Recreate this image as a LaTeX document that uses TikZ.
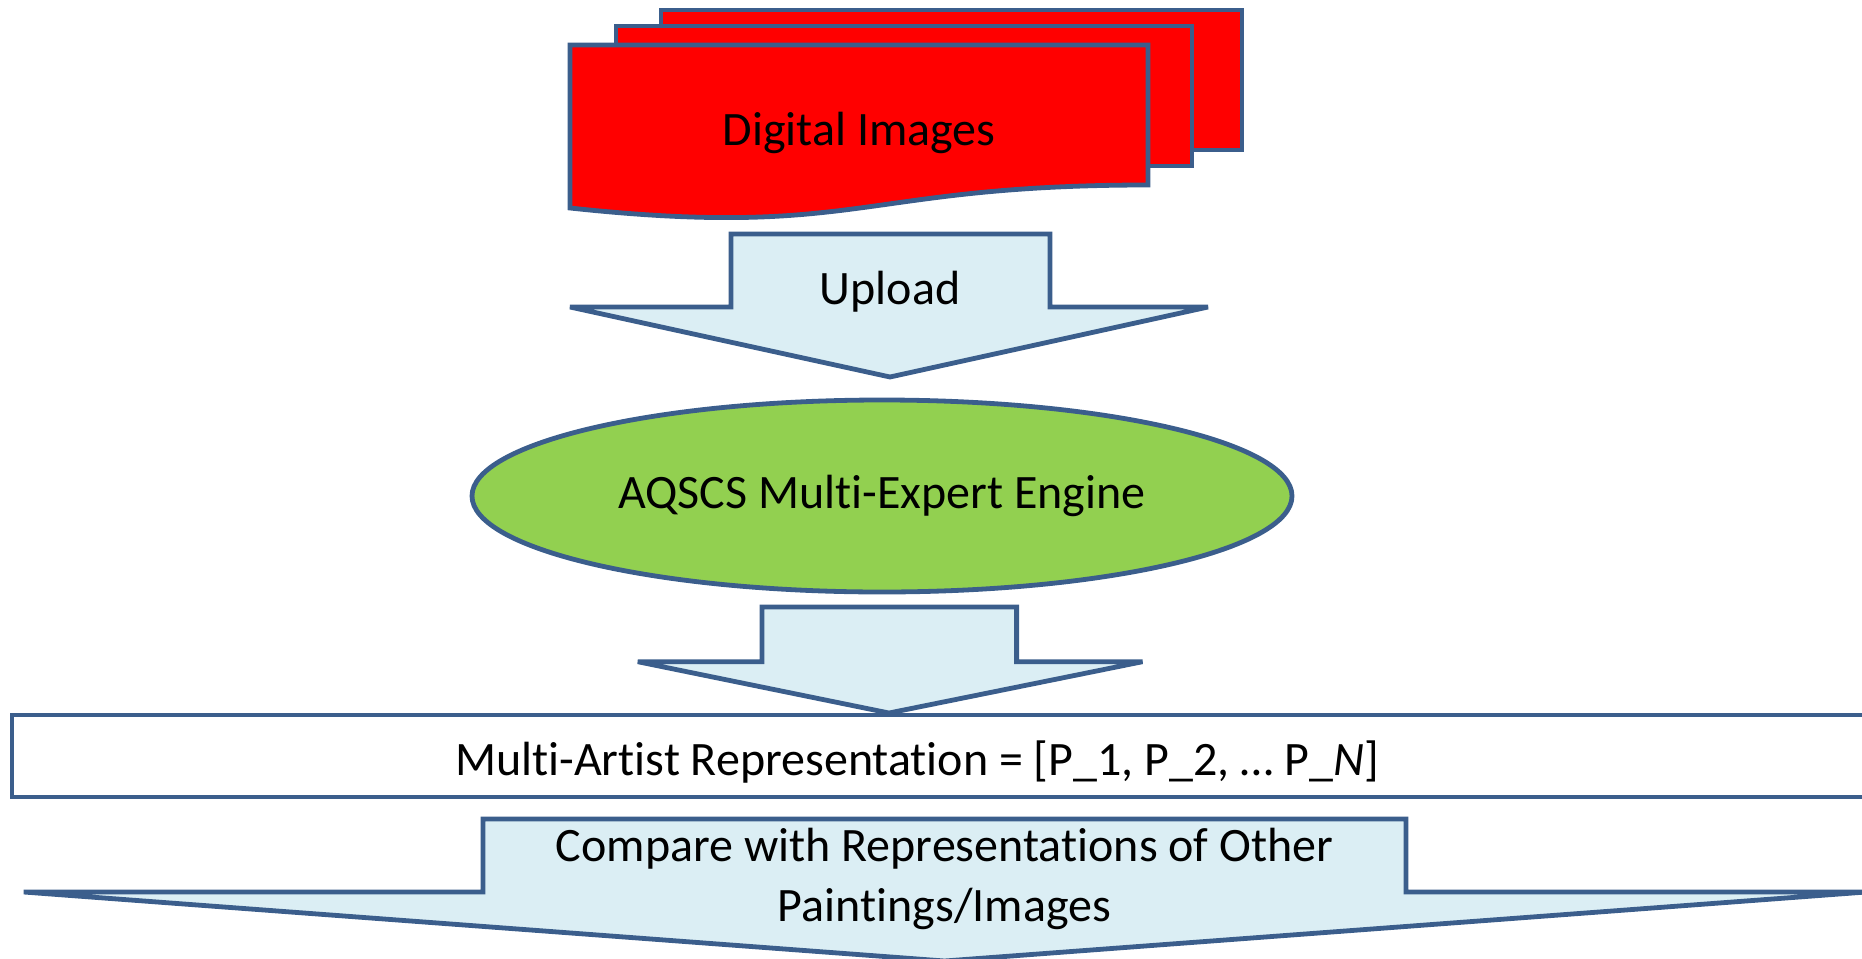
\documentclass[tikz,border=0pt]{standalone}
\usepackage{fontspec}
\setmainfont{Carlito}[Ligatures=NoCommon]
\usetikzlibrary{shapes.geometric}
\definecolor{edge}{HTML}{3B5E8C}
\definecolor{docred}{HTML}{FF0000}
\definecolor{engine}{HTML}{92D050}
\definecolor{flow}{HTML}{DBEEF4}
\tikzset{
  outline/.style={draw=edge, line width=4.8pt, line join=miter, miter limit=2},
  txt/.style={font=\fontsize{48}{60}\selectfont, text=black, inner sep=0pt, align=center},
}
\begin{document}
\begin{tikzpicture}[x=1pt,y=-1pt]
\useasboundingbox (0,0) rectangle (1862,958);
\clip (0,0) rectangle (1862,958);
% stacked documents, back to front
\filldraw[outline, fill=docred] (661,10) rectangle (1242,150);
\filldraw[outline, fill=docred] (616,26) rectangle (1192,166);
\filldraw[outline, fill=docred] (570,45) -- (1148,45) -- (1148,185)
  .. controls (859,185) and (859,239) .. (570,208) -- cycle;
\node[txt] (docs) at (859,133) {Digital Images};
% upload arrow
\filldraw[outline, fill=flow] (731,234) -- (1050,234) -- (1050,307) -- (1208,307)
  -- (890,377) -- (570,307) -- (731,307) -- cycle;
\node[txt] (upload) at (890,292) {Upload};
% engine
\node[ellipse, outline, fill=engine, minimum width=820pt, minimum height=192pt, txt]
  (engine) at (882,496) {\raisebox{-2pt}{AQSCS Multi-Expert Engine}};
% output arrow
\filldraw[outline, fill=flow] (762,607) -- (1016.6,607) -- (1016.6,661.7) -- (1142.5,661.7)
  -- (889,713) -- (637.8,661.7) -- (762,661.7) -- cycle;
% representation bar
\filldraw[outline, fill=white] (12,715) rectangle (1880,797);
\node[txt] (repr) at (917,762) {Multi-Artist Representation = [P\_1, P\_2, … P\_\textit{N}]};
% comparison arrow
\filldraw[outline, fill=flow] (483,819) -- (1406,819) -- (1406,892) -- (1866,892)
  -- (944.5,961) -- (23.75,892) -- (483,892) -- cycle;
\node[txt] (compare) at (944.5,879) {Compare with Representations of Other\\Paintings/Images};
\end{tikzpicture}
\end{document}
